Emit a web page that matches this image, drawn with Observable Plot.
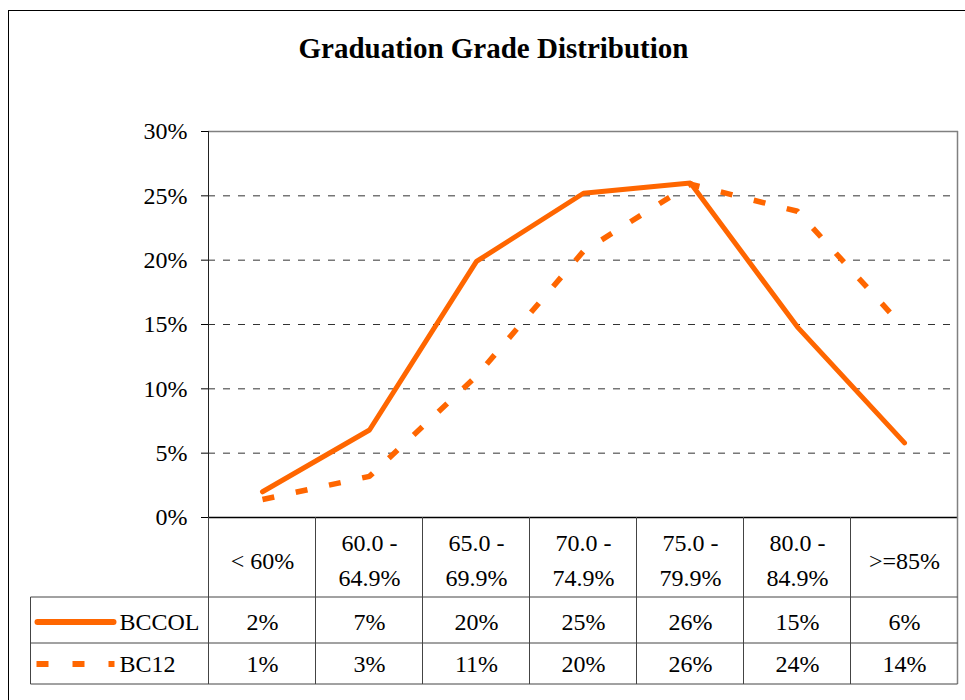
<!DOCTYPE html>
<html><head><meta charset="utf-8">
<script src="https://cdn.jsdelivr.net/npm/d3@7"></script>
<script src="https://cdn.jsdelivr.net/npm/@observablehq/plot@0.6"></script>
<style>
html,body{margin:0;padding:0;background:#fff;overflow:hidden;}
#wrap{position:relative;width:965px;height:700px;}
#border{position:absolute;left:8px;top:10px;width:1100px;height:1100px;border-left:1px solid #000;border-top:1px solid #000;pointer-events:none;z-index:5;}
figure{margin:0;}
figure h2{margin:0;padding:32px 0 0 22px;height:36px;line-height:36px;font:bold 29px "Liberation Serif",serif;text-align:center;color:#000;}
</style></head><body><div id="wrap"></div>
<script>
const title = "Graduation Grade Distribution";
const categories = ["< 60%", "60.0 -\n64.9%", "65.0 -\n69.9%", "70.0 -\n74.9%", "75.0 -\n79.9%", "80.0 -\n84.9%", ">=85%"];
const seriesNames = ["BCCOL", "BC12"];
const bccol = [2.0, 6.8, 19.9, 25.2, 26.0, 14.8, 5.8];
const bc12 = [1.4, 3.2, 11.0, 20.7, 25.9, 23.8, 14.7];
const bccolLabels = ["2%", "7%", "20%", "25%", "26%", "15%", "6%"];
const bc12Labels = ["1%", "3%", "11%", "20%", "26%", "24%", "14%"];
const yTicks = [0, 5, 10, 15, 20, 25, 30];

const seriesValues = [bccol, bc12];
const seriesLabels = [bccolLabels, bc12Labels];
const rows = seriesNames.flatMap((s, i) => categories.map((c, j) => ({series: s, cat: c, value: seriesValues[i][j], label: seriesLabels[i][j]})));

const ORANGE = "#FF6600";
const rowDy = [105, 147];

function tableGrid(index, scales, values, dim) {
  const {x, y} = scales;
  const step = x(categories[1]) - x(categories[0]);
  const left = x(categories[0]) - step / 2;
  const right = x(categories[categories.length - 1]) + step / 2;
  const y0 = y(0), yTop = y(30);
  const legendLeft = left - 178;
  const rowB = [y0 + 80, y0 + 126, y0 + 167];
  const g = d3.create("svg:g").attr("fill", "none");
  g.append("line").attr("x1", left).attr("x2", left).attr("y1", yTop).attr("y2", y0).attr("stroke", "#222");
  g.append("line").attr("x1", right).attr("x2", right).attr("y1", yTop).attr("y2", rowB[2]).attr("stroke", "#808080").attr("stroke-width", 1.5);
  categories.forEach((c) => {
    const bx = x(c) - step / 2;
    g.append("line").attr("x1", bx).attr("x2", bx).attr("y1", y0).attr("y2", rowB[2]).attr("stroke", "#444");
  });
  g.append("line").attr("x1", legendLeft).attr("x2", legendLeft).attr("y1", rowB[0]).attr("y2", rowB[2]).attr("stroke", "#444");
  rowB.forEach(by => {
    g.append("line").attr("x1", legendLeft).attr("x2", right).attr("y1", by).attr("y2", by).attr("stroke", "#444");
  });
  g.append("line").attr("x1", legendLeft + 7).attr("x2", legendLeft + 83).attr("y1", y0 + rowDy[0]).attr("y2", y0 + rowDy[0])
    .attr("stroke", ORANGE).attr("stroke-width", 6).attr("stroke-linecap", "round");
  g.append("line").attr("x1", legendLeft + 6).attr("x2", legendLeft + 84).attr("y1", y0 + rowDy[1]).attr("y2", y0 + rowDy[1])
    .attr("stroke", ORANGE).attr("stroke-width", 6).attr("stroke-dasharray", "12,24");
  return g.node();
}

const plot = Plot.plot({
  title,
  width: 965,
  height: 632,
  marginLeft: 208,
  marginRight: 7,
  marginTop: 63,
  marginBottom: 183,
  style: {fontFamily: "'Liberation Serif', 'Times New Roman', serif", fontSize: "24px", color: "#000", background: "transparent"},
  x: {type: "point", domain: categories, padding: 0.5, axis: null},
  y: {domain: [0, 30], ticks: yTicks, tickFormat: d => d + "%", tickSize: 7, tickPadding: 14, label: null},
  marks: [
    Plot.ruleY(yTicks.filter(t => t > 0 && t < 30), {stroke: "#333", strokeDasharray: "7,8", strokeWidth: 1}),
    Plot.ruleY([30], {stroke: "#808080", strokeWidth: 1.5}),
    Plot.ruleY([0], {stroke: "#000", strokeWidth: 1.5}),
    tableGrid,
    Plot.line(rows.filter(d => d.series === "BCCOL"), {x: "cat", y: "value", stroke: ORANGE, strokeWidth: 5, strokeLinecap: "round", strokeLinejoin: "miter"}),
    Plot.line(rows.filter(d => d.series === "BC12"), {x: "cat", y: "value", stroke: ORANGE, strokeWidth: 5.5, strokeDasharray: "12,22", strokeLinecap: "butt", strokeLinejoin: "miter"}),
    Plot.text(categories, {x: d => d, y: () => 0, dy: 40, text: d => d, lineHeight: 1.46, fontSize: 24, fill: "#000"}),
    ...seriesNames.map((s, i) => Plot.text(rows.filter(d => d.series === s), {x: "cat", y: () => 0, dy: rowDy[i], text: "label", fontSize: 24, fill: "#000"})),
    ...seriesNames.map((s, i) => Plot.text([s], {frameAnchor: "left", y: () => 0, dy: rowDy[i], dx: -89, text: d => d, textAnchor: "start", fontSize: 24, fill: "#000"}))
  ]
});
const wrap = document.getElementById("wrap");
wrap.appendChild(plot);
const border = document.createElement("div");
border.id = "border";
wrap.appendChild(border);
</script>
</body></html>
